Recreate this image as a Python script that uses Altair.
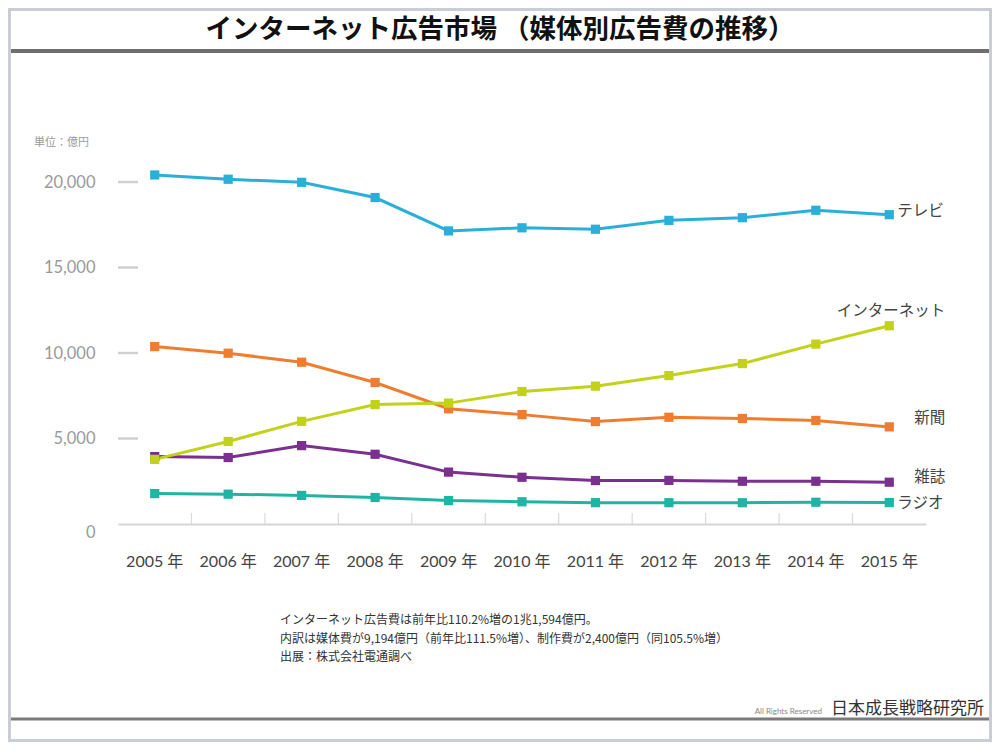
import altair as alt
import pandas as pd

# ---- data (億円) ----
years = [2005, 2006, 2007, 2008, 2009, 2010, 2011, 2012, 2013, 2014, 2015]
series_names = ["テレビ", "新聞", "雑誌", "ラジオ", "インターネット"]
tv = [20411, 20161, 19981, 19092, 17139, 17321, 17237, 17757, 17913, 18347, 18088]
newspaper = [10377, 9986, 9462, 8276, 6739, 6396, 5990, 6242, 6170, 6057, 5679]
magazine = [3945, 3887, 4585, 4078, 3034, 2733, 2542, 2551, 2499, 2500, 2443]
radio = [1778, 1744, 1671, 1549, 1370, 1299, 1247, 1246, 1243, 1272, 1254]
internet = [3777, 4826, 6003, 6983, 7069, 7747, 8062, 8680, 9381, 10519, 11594]
colors = ["#2ab0d8", "#ef7d31", "#7b2f8f", "#20b4a4", "#c2d21b"]
y_tick_values = [0, 5000, 10000, 15000, 20000]

title_text = "インターネット広告市場 （媒体別広告費の推移）"
unit_text = "単位：億円"
notes = [
    "インターネット広告費は前年比110.2%増の1兆1,594億円。",
    "内訳は媒体費が9,194億円（前年比111.5%増）、制作費が2,400億円（同105.5%増）",
    "出展：株式会社電通調べ",
]
rights_text = "All Rights Reserved"
logo_text = "日本成長戦略研究所"

values = [tv, newspaper, magazine, radio, internet]
rows = []
for name, vals in zip(series_names, values):
    for yr, v in zip(years, vals):
        rows.append({"series": name, "year": yr, "value": v})
df = pd.DataFrame(rows)

NUM_FONT = "Lato, Noto Sans CJK JP"
JP_FONT = "Noto Sans CJK JP"

W, H = 808, 342
PAD = {"left": 110, "top": 174, "right": 66, "bottom": 218}

xscale = alt.Scale(type="band", domain=years, paddingInner=0, paddingOuter=0)
yscale = alt.Scale(domain=[0, 20000], nice=False, zero=True)
cscale = alt.Scale(domain=series_names, range=colors)

xaxis = alt.Axis(title=None, labelExpr="datum.value + ' 年'", labelAngle=0,
                 ticks=False, tickSize=0, domain=True, domainColor="#d6d6d6",
                 domainWidth=2, labelFont=NUM_FONT, labelFontSize=16,
                 labelColor="#444444", labelPadding=29, zindex=1)
yaxis = alt.Axis(title=None, values=y_tick_values, format=",d", grid=False,
                 domain=False, ticks=False, tickSize=0, labelFont=NUM_FONT,
                 labelFontSize=16.5, labelColor="#9a9a9a", labelPadding=23,
                 labelOffset=alt.ExprRef("datum.value === 0 ? 8 : 0"), zindex=1)

# ---- background frame ----
frame = alt.Chart(pd.DataFrame({"a": [0]})).mark_rect(color="white").encode(
    x=alt.value(-107), x2=alt.value(871), y=alt.value(-171), y2=alt.value(557))

title_rule = alt.Chart(pd.DataFrame({"a": [0]})).mark_rule(
    color="#6e6e6e", strokeWidth=4).encode(
    x=alt.value(-107), x2=alt.value(871), y=alt.value(-131))
bottom_rule = alt.Chart(pd.DataFrame({"a": [0]})).mark_rule(
    color="#7a7a7a", strokeWidth=3).encode(
    x=alt.value(-107), x2=alt.value(871), y=alt.value(537))

def text_layer(txt, x, y, size, color, align="left", weight="normal", font=JP_FONT):
    return alt.Chart(pd.DataFrame({"t": [txt]})).mark_text(
        align=align, baseline="middle", fontSize=size, color=color,
        fontWeight=weight, font=font).encode(
        x=alt.value(x), y=alt.value(y), text="t:N")

title = text_layer(title_text, 382, -152, 26.5, "#111111", align="center", weight="bold")
unit = text_layer(unit_text, -84, -39, 11, "#9a9a9a")
note_layers = [text_layer(n, 162, 438 + i * 18.5, 12, "#333333") for i, n in enumerate(notes)]
rights = text_layer(rights_text, 704, 530, 8, "#888888", align="right", font="Lato")
logo = text_layer(logo_text, 713, 527, 17, "#333333")

# ---- axis decorations ----
xtick_df = pd.DataFrame({"year": years[1:]})
xticks = alt.Chart(xtick_df).mark_rule(color="#dadada", strokeWidth=1.2).encode(
    x=alt.X("year:O", bandPosition=0, scale=xscale, axis=xaxis),
    y=alt.value(331), y2=alt.value(342))

ytick_df = pd.DataFrame({"v": y_tick_values[1:]})
yticks = alt.Chart(ytick_df).mark_rule(color="#d0d0d0", strokeWidth=2.5).encode(
    y=alt.Y("v:Q", scale=yscale, axis=yaxis),
    x=alt.value(0), x2=alt.value(20))

# ---- series ----
base = alt.Chart(df).encode(
    x=alt.X("year:O", bandPosition=0.5, scale=xscale, axis=xaxis),
    y=alt.Y("value:Q", scale=yscale, axis=yaxis),
    color=alt.Color("series:N", scale=cscale, legend=None),
    detail="series:N",
)
lines = base.mark_line(strokeWidth=3)
points = base.mark_point(shape="square", filled=True, size=85, opacity=1)

label_style = {
    "テレビ": ("left", 8, -4),
    "インターネット": ("right", 56, -15),
    "新聞": ("right", 56, -9),
    "雑誌": ("right", 56, -5),
    "ラジオ": ("left", 8, 0),
}
last = df[df["year"] == years[-1]]
label_layers = []
for name, (al, dx, dy) in label_style.items():
    d = last[last["series"] == name]
    label_layers.append(
        alt.Chart(d).mark_text(align=al, baseline="middle", dx=dx, dy=dy,
                               fontSize=15.5, color="#444444", font=JP_FONT).encode(
            x=alt.X("year:O", bandPosition=0.5, scale=xscale, axis=xaxis),
            y=alt.Y("value:Q", scale=yscale, axis=yaxis),
            text="series:N"))

chart = alt.layer(
    frame, title_rule, bottom_rule, title, unit, *note_layers, rights, logo,
    xticks, yticks, lines, points, *label_layers
).properties(
    width=W, height=H,
    autosize=alt.AutoSizeParams(type="none"),
    padding=PAD,
    background="#c9ced6",
).configure_view(stroke=None)

chart.save("out.html", embed_options={"renderer": "svg", "actions": False})
